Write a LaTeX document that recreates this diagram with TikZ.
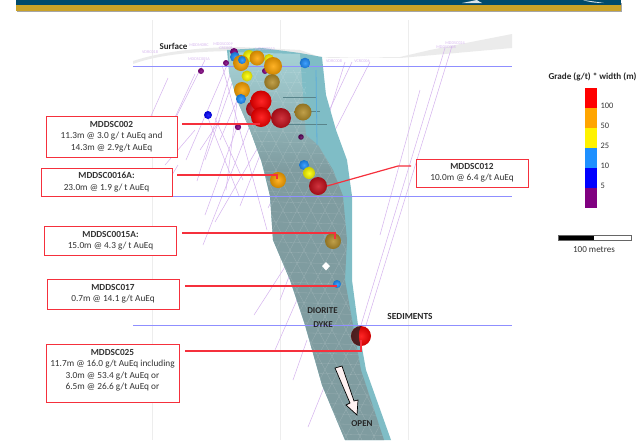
\documentclass[tikz,border=0pt]{standalone}
\usepackage{fontspec}
\setmainfont{Carlito}
\usepackage{tikz}
\usetikzlibrary{positioning}
\definecolor{headblue}{HTML}{004A6B}
\definecolor{headgold}{HTML}{C9A227}
\definecolor{dykerim}{HTML}{7FBDC6}
\definecolor{dykepale}{HTML}{A6D2D6}
\definecolor{dykegrey}{HTML}{7F9CA0}
\definecolor{gridblue}{HTML}{8F8FFF}
\definecolor{leadred}{HTML}{F5303C}
\definecolor{holepurple}{HTML}{D6B6EE}
\definecolor{gradeorange}{HTML}{FFA500}
\definecolor{gradeblue}{HTML}{1E90FF}
\definecolor{gradepurple}{HTML}{800080}
\definecolor{olivegold}{HTML}{B58F2A}
\definecolor{darkred}{HTML}{C8101C}
\begin{document}
\begin{tikzpicture}[x=1pt,y=-1pt,
		resultbox/.style={draw=leadred, fill=white, line width=1pt, align=center, font=\fontsize{9.3}{11.3}\selectfont, inner sep=0pt, text=black!80},
		leader/.style={draw=leadred, line width=1.2pt},
		gridline/.style={draw=gridblue, line width=1pt},
		section/.style={draw=black!7, line width=1pt},
		hole/.style={draw=holepurple, line width=0.55pt},
		holelabel/.style={text=holepurple, font=\fontsize{4.2}{5}\selectfont, inner sep=0pt},
		geolabel/.style={font=\bfseries\fontsize{9}{10}\selectfont, inner sep=0pt, text=black!85},
		legendlabel/.style={font=\fontsize{8.4}{9}\selectfont, inner sep=0pt, text=black!80},
	]
	\useasboundingbox (0,0) rectangle (640,440);

	%Header
	\fill[black!35] (17,3) rectangle (622,12);
	\fill[headblue] (16,0) rectangle (621,5);
	\fill[headgold] (16,5) rectangle (621,11);
	\fill[white!85!headblue] (462,3) .. controls (470,1.5) and (474,0.5) .. (477,0) .. controls (478,1) and (480,2) .. (482,3) -- cycle;
	\fill[white!85!headblue] (583,0) .. controls (590,1) and (598,2) .. (604,3) .. controls (596,3) and (588,2) .. (583,0) -- cycle;

	%Section grid
	\foreach \gx in {152,280,408}
		\draw[section] (\gx,20) -- (\gx,440);

	%Surface
	\fill[black!8] (133,61) .. controls (160,52) and (200,47) .. (240,47) -- (300,50) -- (320,57) -- (400,58) -- (512,48) -- (512,34) -- (430,50) -- (400,57) -- (330,58) -- (300,54) -- (240,51) .. controls (200,51) and (160,54) .. (133,64) -- cycle;

	%Drill holes
	\foreach \ax/\ay/\bx/\by in {
		205/60/171/127, 168/78/147/125, 195/74/172/124, 228/63/186/160, 232/68/197/181,
		222/65/267/230, 236/72/205/160, 240/78/226/190, 250/70/220/140, 208/118/239/196,
		215/118/243/180, 236/130/205/215, 252/120/203/245, 268/130/215/222, 262/150/240/206,
		300/142/268/208, 313/70/300/130, 345/62/318/150, 352/62/320/130, 319/62/296/120,
		370/62/330/140, 445/48/358/335, 452/46/363/335, 420/90/380/235, 330/170/280/300,
		345/190/275/350, 312/225/254/315, 307/340/293/380, 327/380/308/427,
		178/165/160/195, 195/130/165/165, 220/120/200/150}
		\draw[hole] (\ax,\ay) -- (\bx,\by);

	%Dyke
	\fill[dykerim] (227,50) -- (262,48) -- (300,53) -- (322,57) -- (326,95) -- (336,130) -- (347,160) -- (352,196) -- (352,240) -- (352,280) -- (358,325) -- (366,370) -- (391,440) -- (345,440) -- (322,385) -- (305,325) -- (290,280) -- (273,240) -- (270,196) -- (261,160) -- (250,130) -- (237,100) -- (229,72) -- cycle;
	\shade[top color=dykepale, bottom color=dykegrey] (229,52) -- (300,54) -- (303,95) -- (306,135) -- (318,145) -- (333,170) -- (264,170) -- (261,160) -- (250,130) -- (237,100) -- (229,72) -- cycle;
	\fill[dykegrey] (264,170) -- (333,170) -- (343,196) -- (347,240) -- (345,280) -- (353,325) -- (361,370) -- (384,440) -- (345,440) -- (322,385) -- (305,325) -- (290,280) -- (273,240) -- (270,196) -- cycle;
	\begin{scope}
		\clip (252,70) -- (306,70) -- (306,135) -- (318,145) -- (333,170) -- (343,196) -- (347,240) -- (345,280) -- (353,325) -- (361,370) -- (384,440) -- (345,440) -- (322,385) -- (305,325) -- (290,280) -- (273,240) -- (270,196) -- (261,160) -- (245,120) -- cycle;
		\foreach \mx in {-300,-286,...,500} {
			\draw[white, opacity=0.2, line width=0.3pt] (\mx,60) -- (\mx+200,440);
			\draw[white, opacity=0.2, line width=0.3pt] (\mx+200,60) -- (\mx,440);
		}
		\foreach \my in {70,80,...,440}
			\draw[white, opacity=0.2, line width=0.3pt] (220,\my) -- (400,\my+6);
	\end{scope}

	%Hole traces inside the dyke
	\foreach \ax/\ay/\bx/\by in {283/97/317/97, 303/111/320/111, 277/124/327/124}
		\draw[black!30!dykerim, line width=0.5pt] (\ax,\ay) -- (\bx,\by);
	\draw[gradeblue!35!dykerim, line width=0.8pt] (316,70) -- (317,145);

	%Grid lines
	\draw[gridline] (133,66.5) -- (512,66.5);
	\draw[gridline] (172,196) -- (512,196);
	\draw[gridline] (133,325) -- (512,325);

	%Hole labels
	\node[holelabel] (labA) at (150,52.5) {VDRC018};
	\node[holelabel] (labB) at (199,45) {MDDMDRC};
	\node[holelabel] (labC) at (199,59.5) {MDDSC005A};
	\node[holelabel] (labD) at (223,44) {MDDSC009};
	\node[holelabel] (labE) at (226,48) {CRC008};
	\node[holelabel] (labF) at (265,49) {MDDSC012};
	\node[holelabel] (labG) at (334,61.5) {VDRC008};
	\node[holelabel] (labH) at (362,61.5) {VCRC006};
	\node[holelabel] (labI) at (455,43) {MDDSC024};
	\node[holelabel] (labJ) at (446,47) {MDDSC008};

	%Intersections
	\foreach \sx/\sy/\sr/\scol in {
		234/52/4/gradepurple, 226/63/3/gradepurple, 201/71/3/gradepurple, 238/127/3.2/gradepurple,
		301/137/2.8/gradepurple!70!black, 265/71/3/gradepurple,
		235/57/5/gradeblue, 249/56/6/yellow, 269/59/5/yellow,
		241/63/8/gradeorange, 242/60/4/gradeblue, 257/58/7.5/gradeorange, 273/66/9/gradeorange, 305/63/5.3/gradeblue,
		247/76/5.5/yellow, 272/82/7.8/olivegold, 242/90/8/gradeorange, 241/99/5/gradeblue, 208/115/4/blue,
		303/112/8.5/olivegold, 254/109/8/darkred, 261/101/10.5/red, 261/117/10/red, 281/118/10/darkred,
		304/165/5/gradeblue, 309/173/6/yellow, 318/186/9/darkred, 278/180/8/gradeorange,
		333/241/8/olivegold, 337/284/4/gradeblue, 361/336/10/red}
		\shade[inner color=\scol!85!white, outer color=\scol!80!black] (\sx,\sy) circle (\sr);
	\fill[black!75!dykegrey, opacity=0.75] (361,326) arc (-90:-270:10) .. controls (358,340) and (358,332) .. (361,326) -- cycle;
	\fill[white] (326,262) -- (330,266) -- (326,270.5) -- (322,266) -- cycle;

	%Result boxes
	\node[resultbox, minimum width=131pt, minimum height=41pt] (sc002) at (111.5,136.5) {\textbf{MDDSC002}\\11.3m @ 3.0 g/ t AuEq and\\14.3m @ 2.9g/t AuEq};
	\node[resultbox, minimum width=131pt, minimum height=28pt] (sc0016) at (106.5,182) {\textbf{MDDSC0016A:}\\23.0m @ 1.9 g/ t AuEq};
	\node[resultbox, minimum width=132pt, minimum height=29pt] (sc0015) at (110.5,240.5) {\textbf{MDDSC0015A:}\\15.0m @ 4.3 g/ t AuEq};
	\node[resultbox, minimum width=132pt, minimum height=30pt] (sc017) at (113,294) {\textbf{MDDSC017}\\0.7m @ 14.1 g/t AuEq};
	\node[resultbox, minimum width=133pt, minimum height=58pt] (sc025) at (112.5,373) {\textbf{MDDSC025}\\11.7m @ 16.0 g/t AuEq including\\3.0m @ 53.4 g/t AuEq or\\6.5m @ 26.6 g/t AuEq or\\[-4pt]~};
	\node[resultbox, minimum width=112pt, minimum height=28pt] (sc012) at (472,173) {\textbf{MDDSC012}\\10.0m @ 6.4 g/t AuEq};

	%Leader ends
	\coordinate (s002a) at (182,124);
	\coordinate (s002b) at (260,124);
	\coordinate (s016a) at (177,175);
	\coordinate (s016b) at (277,175);
	\coordinate (s016c) at (277,179);
	\coordinate (s015a) at (182,233);
	\coordinate (s015b) at (335,233);
	\coordinate (s015c) at (335,239);
	\coordinate (s017a) at (185,286);
	\coordinate (s017b) at (337,286);
	\coordinate (s025a) at (185,351);
	\coordinate (s025b) at (361,351);
	\coordinate (s025c) at (361,340);
	\coordinate (s012a) at (411,166);
	\coordinate (s012b) at (398,166);
	\coordinate (s012c) at (327,186);

	%Lines
	\draw[leader] (s002a) -- (s002b);
	\draw[leader] (s016a) -- (s016b) -- (s016c);
	\draw[leader] (s015a) -- (s015b) -- (s015c);
	\draw[leader] (s017a) -- (s017b);
	\draw[leader] (s025a) -- (s025b) -- (s025c);
	\draw[leader] (s012a) -- (s012b) -- (s012c);

	%Geology labels
	\node[geolabel] (surf) at (173.5,46) {Surface};
	\node[geolabel] (dior) at (322.5,311) {DIORITE};
	\node[geolabel] (dyke) at (323,325) {DYKE};
	\node[geolabel, font=\bfseries\fontsize{9.3}{10}\selectfont] (sedi) at (410,316) {SEDIMENTS};
	\node[geolabel] (open) at (362,424) {OPEN};

	%Open arrow
	\draw[black, line width=0.7pt, fill=red!5] (335,368) -- (342,366) -- (354,401) -- (358,400) -- (357,415) -- (346,405) -- (350,403) -- cycle;

	%Legend
	\node[font=\bfseries\fontsize{9.1}{10}\selectfont, inner sep=0pt, text=black!85] (legtitle) at (592.5,77) {Grade (g/t) * width (m)};
	\foreach \lcol [count=\li from 0] in {red,gradeorange,yellow,gradeblue,blue,gradepurple}
		\fill[\lcol] (585,88+20*\li) rectangle (597,108+20*\li);
	\foreach \ltxt [count=\li from 0] in {100,50,25,10,5}
		\node[legendlabel, anchor=west] (leg\li) at (600.5,106+20*\li) {\ltxt};

	%Scale bar
	\fill[black] (558,235) rectangle (594,240);
	\draw[black!60, line width=0.5pt] (558,235) rectangle (631,240);
	\node[font=\fontsize{9.1}{10}\selectfont, inner sep=0pt, text=black!80] (scaletxt) at (594,250) {100 metres};
\end{tikzpicture}
\end{document}
